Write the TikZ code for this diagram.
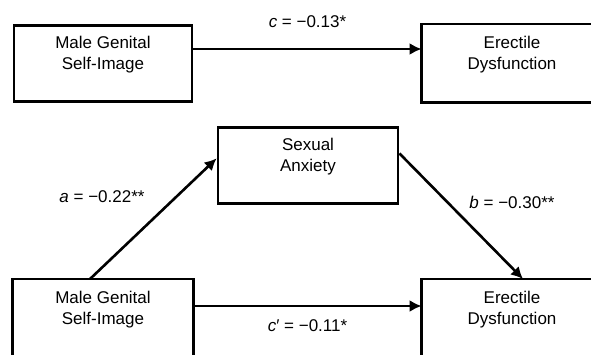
\documentclass[tikz,border=0pt]{standalone}
\usepackage{fontspec}
\setmainfont{Liberation Sans}
\usetikzlibrary{arrows.meta}

\tikzset{
    box/.style={draw, line width=2.8pt, minimum width=178pt, minimum height=76pt,
        anchor=north, inner sep=0pt},
    % box running off the page: outline drawn by hand
    cutbox/.style={box, draw=none},
    edge line/.style={line width=2.8pt},
    boxtext/.style={align=center, anchor=north, inner sep=0pt,
        font=\fontsize{17}{21}\selectfont},
    arr/.style={line width=2.6pt, -{Latex[length=12pt,width=12pt]}},
    coef/.style={inner sep=0pt, font=\fontsize{17}{20}\selectfont}
}

\begin{document}
\begin{tikzpicture}[x=1pt, y=-1pt]
    \useasboundingbox (0,0) rectangle (591,354);
    \fill[white] (0,0) rectangle (591,354);

    % total effect
    \node[box] (msiT) at (103,24) {};
    \node[cutbox] (edT) at (512,24) {};
    \draw[edge line] ([xshift=20pt]edT.south east) -- (edT.south west)
        -- (edT.north west) -- ([xshift=20pt]edT.north east);
    \node[boxtext] (msiTtxt) at ([yshift=-12pt]msiT.north) {Male Genital\\Self-Image};
    \node[boxtext] (edTtxt) at ([yshift=-12pt]edT.north) {Erectile\\Dysfunction};
    \draw[arr] ([yshift=-25pt]msiT.north east) -- ([yshift=-25pt]edT.north west)
        node[coef, midway, yshift=27pt] (c) {\textit{c} = −0.13*};

    % mediation model
    \node[box, minimum width=180pt] (sa) at (308,126) {};
    \node[boxtext] (satxt) at ([yshift=-12pt]sa.north) {Sexual\\Anxiety};
    \node[cutbox, minimum height=90pt] (msiB) at (103,279) {};
    \node[cutbox, minimum height=90pt] (edB) at (512,279) {};
    \draw[edge line] (msiB.south west) -- (msiB.north west)
        -- (msiB.north east) -- (msiB.south east);
    \draw[edge line] (edB.south west) -- (edB.north west)
        -- ([xshift=20pt]edB.north east);
    \node[boxtext] (msiBtxt) at ([yshift=-12pt]msiB.north) {Male Genital\\Self-Image};
    \node[boxtext] (edBtxt) at ([yshift=-12pt]edB.north) {Erectile\\Dysfunction};

    \draw[arr] ([xshift=-13pt]msiB.north) -- ([yshift=7pt]sa.west);
    \draw[arr] ([yshift=12pt]sa.east) -- ([xshift=11pt]edB.north);
    \draw[arr] ([yshift=-27pt]msiB.north east) -- ([yshift=-27pt]edB.north west)
        node[coef, midway, yshift=-20pt] (cp) {\textit{c}′ = −0.11*};

    \node[coef] (a) at (102,197) {\textit{a} = −0.22**};
    \node[coef] (b) at (512,202) {\textit{b} = −0.30**};
\end{tikzpicture}
\end{document}
